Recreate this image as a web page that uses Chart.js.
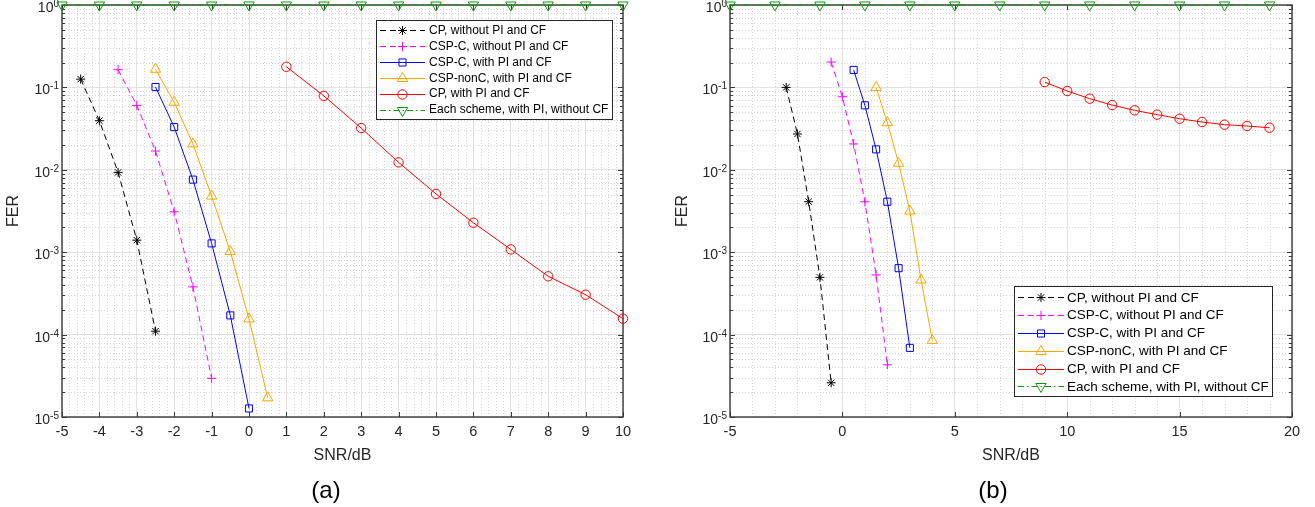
<!DOCTYPE html>
<html><head><meta charset="utf-8">
<script src="https://cdn.jsdelivr.net/npm/chart.js@4.4.1/dist/chart.umd.min.js"></script>
<style>
body{margin:0;background:#fff;width:1315px;height:507px;overflow:hidden;position:relative;font-family:"Liberation Sans",Arial,sans-serif}
#wa{position:absolute;left:0;top:0;width:660px;height:507px}
#wb{position:absolute;left:660px;top:0;width:655px;height:507px}
.cap{position:absolute;font-size:24px;line-height:24px;color:#000;top:478px;transform:translateX(-50%);white-space:nowrap}
</style></head>
<body>
<div id="wa"><canvas id="ca" width="660" height="507"></canvas></div>
<div id="wb"><canvas id="cb" width="655" height="507"></canvas></div>
<div class="cap" style="left:326px">(a)</div>
<div class="cap" style="left:993px">(b)</div>
<script>
// ---------- data: panel (a) ----------
const snrA_cp    = [-4.5, -4, -3.5, -3, -2.5];
const ferA_cp    = [0.126, 0.0394, 0.0093, 0.0014, 1.1e-4];
const snrA_cspc  = [-3.5, -3, -2.5, -2, -1.5, -1];
const ferA_cspc  = [0.164, 0.0605, 0.0169, 0.0031, 3.8e-4, 2.95e-5];
const snrA_cspcPI = [-2.5, -2, -1.5, -1, -0.5, 0];
const ferA_cspcPI = [0.101, 0.033, 0.0076, 0.00128, 1.71e-4, 1.27e-5];
const snrA_nonc  = [-2.5, -2, -1.5, -1, -0.5, 0, 0.5];
const ferA_nonc  = [0.166, 0.066, 0.0206, 0.0048, 1.02e-3, 1.55e-4, 1.71e-5];
const snrA_cpPI  = [1, 2, 3, 4, 5, 6, 7, 8, 9, 10];
const ferA_cpPI  = [0.178, 0.079, 0.0321, 0.0123, 0.0051, 0.00228, 0.00108, 5.1e-4, 3.05e-4, 1.56e-4];
const snrA_each  = [-5, -4, -3, -2, -1, 0, 1, 2, 3, 4, 5, 6, 7, 8, 9, 10];
const ferA_each  = [1, 1, 1, 1, 1, 1, 1, 1, 1, 1, 1, 1, 1, 1, 1, 1];
// ---------- data: panel (b) ----------
const snrB_cp    = [-2.5, -2, -1.5, -1, -0.5];
const ferB_cp    = [0.1, 0.0272, 0.0041, 4.95e-4, 2.6e-5];
const snrB_cspc  = [-0.5, 0, 0.5, 1, 1.5, 2];
const ferB_cspc  = [0.203, 0.077, 0.0206, 0.0041, 5.3e-4, 4.3e-5];
const snrB_cspcPI = [0.5, 1, 1.5, 2, 2.5, 3];
const ferB_cspcPI = [0.163, 0.0606, 0.0177, 0.0041, 6.4e-4, 6.9e-5];
const snrB_nonc  = [1.5, 2, 2.5, 3, 3.5, 4];
const ferB_nonc  = [0.1, 0.0373, 0.012, 0.00316, 4.6e-4, 8.5e-5];
const snrB_cpPI  = [9, 10, 11, 12, 13, 14, 15, 16, 17, 18, 19];
const ferB_cpPI  = [0.116, 0.0904, 0.073, 0.061, 0.0527, 0.0467, 0.0417, 0.038, 0.0353, 0.034, 0.0324];
const snrB_each  = [-5, -3, -1, 1, 3, 5, 7, 9, 11, 13, 15, 17, 19];
const ferB_each  = [1, 1, 1, 1, 1, 1, 1, 1, 1, 1, 1, 1, 1];
// ---------- labels / ticks ----------
const seriesNames = ['CP, without PI and CF', 'CSP-C, without PI and CF', 'CSP-C, with PI and CF',
                     'CSP-nonC, with PI and CF', 'CP, with PI and CF', 'Each scheme, with PI, without CF'];
const yTickValues = [1e-5, 1e-4, 1e-3, 1e-2, 1e-1, 1];
const yTickBase = '10';
const yTickExponents = ['-5', '-4', '-3', '-2', '-1', '0'];
const xTicksA = [-5, -4, -3, -2, -1, 0, 1, 2, 3, 4, 5, 6, 7, 8, 9, 10];
const xTicksB = [-5, 0, 5, 10, 15, 20];
const xTitle = 'SNR/dB';
const yTitle = 'FER';

const FONT = "'Liberation Sans', Arial, Helvetica, sans-serif";
const AXC = '#262626';
const styles = [
  {color:'#000000', ps:'star', r:4.5, dash:[6,4], rot:0},
  {color:'#ff00ff', ps:'cross', r:4.6, dash:[6,4], rot:0},
  {color:'#0000ff', ps:'rect', r:5, dash:[], rot:0},
  {color:'#ffa500', ps:'triangle', r:6, dash:[], rot:0},
  {color:'#ff0000', ps:'circle', r:4.7, dash:[], rot:0},
  {color:'#109910', ps:'triangle', r:6, dash:[6,3,1.5,3], rot:180}
];
function mk(i, xs, ys){
  const s = styles[i];
  return {label: seriesNames[i], data: xs.map((x,k)=>({x:x, y:ys[k]})), showLine:true,
    borderColor:s.color, backgroundColor:'rgba(0,0,0,0)', borderWidth:1, borderDash:s.dash,
    pointStyle:s.ps, pointRadius:s.r, pointHoverRadius:s.r, pointRotation:s.rot,
    pointBorderColor:s.color, pointBackgroundColor:'rgba(0,0,0,0)', pointBorderWidth:1,
    tension:0, clip:false};
}

const matlabPlugin = {
  id:'matlab',
  beforeDatasetsDraw(chart, args, opts){
    const {ctx, chartArea:a, scales:{x,y}} = chart;
    ctx.save();
    // minor grid
    ctx.strokeStyle = '#d6d6d6'; ctx.lineWidth = 1; ctx.setLineDash([1,2]);
    const n = Math.round((x.max - x.min)/opts.minorStep);
    for (let k=1;k<n;k++){
      const v = x.min + k*opts.minorStep;
      if (Math.abs(v/opts.majorStep - Math.round(v/opts.majorStep))<1e-6) continue;
      const px = Math.round(x.getPixelForValue(v))+0.5;
      ctx.beginPath(); ctx.moveTo(px,a.top); ctx.lineTo(px,a.bottom); ctx.stroke();
    }
    for (let d=-5; d<0; d++){
      for (let m=2;m<=9;m++){
        const py = Math.round(y.getPixelForValue(m*Math.pow(10,d)))+0.5;
        ctx.beginPath(); ctx.moveTo(a.left,py); ctx.lineTo(a.right,py); ctx.stroke();
      }
    }
    ctx.setLineDash([]);
    // box
    ctx.strokeStyle = '#3a3a3a'; ctx.lineWidth = 1.4;
    ctx.strokeRect(a.left, a.top, a.right-a.left, a.bottom-a.top);
    // ticks inward
    ctx.lineWidth = 1;
    ctx.beginPath();
    x.ticks.forEach(t=>{
      const px = Math.round(x.getPixelForValue(t.value))+0.5;
      ctx.moveTo(px,a.bottom); ctx.lineTo(px,a.bottom-5);
      ctx.moveTo(px,a.top); ctx.lineTo(px,a.top+5);
    });
    for (let d=-5; d<=0; d++){
      const py = Math.round(y.getPixelForValue(Math.pow(10,d)))+0.5;
      ctx.moveTo(a.left,py); ctx.lineTo(a.left+5,py);
      ctx.moveTo(a.right,py); ctx.lineTo(a.right-5,py);
      if (d<0) for (let m=2;m<=9;m++){
        const q = Math.round(y.getPixelForValue(m*Math.pow(10,d)))+0.5;
        ctx.moveTo(a.left,q); ctx.lineTo(a.left+3,q);
        ctx.moveTo(a.right,q); ctx.lineTo(a.right-3,q);
      }
    }
    ctx.stroke();
    // y tick labels: base + raised exponent
    ctx.fillStyle = AXC; ctx.textBaseline = 'alphabetic'; ctx.textAlign = 'left';
    y.ticks.forEach((t,i)=>{
      const py = y.getPixelForValue(t.value);
      const e = yTickExponents[i];
      ctx.font = '10px ' + FONT; const we = ctx.measureText(e).width;
      ctx.font = '14px ' + FONT; const wb = ctx.measureText(yTickBase).width;
      const right = a.left - 3;
      ctx.fillText(yTickBase, right - we - wb, py + 7);
      ctx.font = '10px ' + FONT;
      ctx.fillText(e, right - we, py + 2);
    });
    ctx.restore();
  },
  afterDatasetsDraw(chart, args, opts){
    const L = opts.legend; const ctx = chart.ctx;
    ctx.save();
    ctx.fillStyle = '#ffffff'; ctx.fillRect(L.x, L.y, L.w, L.h);
    ctx.strokeStyle = '#262626'; ctx.lineWidth = 1; ctx.setLineDash([]);
    ctx.strokeRect(L.x+0.5, L.y+0.5, L.w, L.h);
    chart.data.datasets.forEach((ds,i)=>{
      const cy = L.y + L.row0 + i*L.dy;
      const x0 = L.x + L.s0, x1 = L.x + L.s1;
      ctx.strokeStyle = ds.borderColor; ctx.lineWidth = 1; ctx.setLineDash(ds.borderDash);
      ctx.beginPath(); ctx.moveTo(x0, Math.round(cy)+0.5); ctx.lineTo(x1, Math.round(cy)+0.5); ctx.stroke();
      ctx.setLineDash([]);
      ctx.fillStyle = 'rgba(0,0,0,0)';
      Chart.helpers.drawPoint(ctx, {pointStyle:ds.pointStyle, radius:ds.pointRadius, rotation:ds.pointRotation, borderWidth:1}, (x0+x1)/2, Math.round(cy)+0.5);
      ctx.fillStyle = '#000'; ctx.font = L.font + 'px ' + FONT; ctx.textBaseline = 'middle'; ctx.textAlign='left';
      ctx.fillText(ds.label, L.x + L.tx, cy+0.5);
    });
    ctx.restore();
  }
};

function build(canvas, datasets, xmin, xmax, xticks, yw, padR, fy, minorStep, majorStep, legend){
  return new Chart(canvas, {
    type:'scatter',
    data:{datasets},
    plugins:[matlabPlugin],
    options:{
      responsive:false, animation:false, devicePixelRatio:1,
      layout:{autoPadding:false, padding:{left:0, top:5, right:padR, bottom:42}},
      plugins:{legend:{display:false}, tooltip:{enabled:false},
        matlab:{minorStep, majorStep, legend}},
      scales:{
        x:{type:'linear', min:xmin, max:xmax,
          afterBuildTicks:(s)=>{ s.ticks = xticks.map(v=>({value:v})); },
          afterFit:(s)=>{ s.height = 48; s.paddingLeft = 0; s.paddingRight = 0; s.paddingTop = 0; s.paddingBottom = 0; },
          ticks:{font:{family:FONT,size:14.5}, color:AXC, padding:6, maxRotation:0, autoSkip:false, callback:(v)=>String(v)},
          grid:{color:'#e2e2e2', lineWidth:1, drawTicks:false},
          border:{display:false},
          title:{display:true, text:xTitle, font:{family:FONT,size:16}, color:AXC, padding:{top:0,bottom:0}}
        },
        y:{type:'logarithmic', min:1e-5, max:1,
          afterBuildTicks:(s)=>{ s.ticks = yTickValues.map(v=>({value:v})); },
          afterFit:(s)=>{ s.width = yw; s.paddingTop = 0; s.paddingBottom = 0; s.paddingLeft = 0; s.paddingRight = 0; },
          ticks:{display:false, autoSkip:false},
          grid:{color:'#e2e2e2', lineWidth:1, drawTicks:false},
          border:{display:false},
          title:{display:true, text:yTitle, font:{family:FONT,size:16}, color:AXC, padding:{top:fy,bottom:0}}
        }
      }
    }
  });
}

build(document.getElementById('ca'), [
  mk(0, snrA_cp, ferA_cp), mk(1, snrA_cspc, ferA_cspc), mk(2, snrA_cspcPI, ferA_cspcPI),
  mk(3, snrA_nonc, ferA_nonc), mk(4, snrA_cpPI, ferA_cpPI), mk(5, snrA_each, ferA_each)
], -5, 10, xTicksA, 62, 37, 3.5, 0.2, 1,
 {x:376, y:20, w:236, h:99, row0:10, dy:15.9, s0:4, s1:49, tx:53, font:12});

build(document.getElementById('cb'), [
  mk(0, snrB_cp, ferB_cp), mk(1, snrB_cspc, ferB_cspc), mk(2, snrB_cspcPI, ferB_cspcPI),
  mk(3, snrB_nonc, ferB_nonc), mk(4, snrB_cpPI, ferB_cpPI), mk(5, snrB_each, ferB_each)
], -5, 20, xTicksB, 70, 23, 13.4, 1, 5,
 {x:354, y:286, w:258, h:110, row0:11.3, dy:17.8, s0:4, s1:50, tx:53, font:13.5});
</script>
</body></html>
